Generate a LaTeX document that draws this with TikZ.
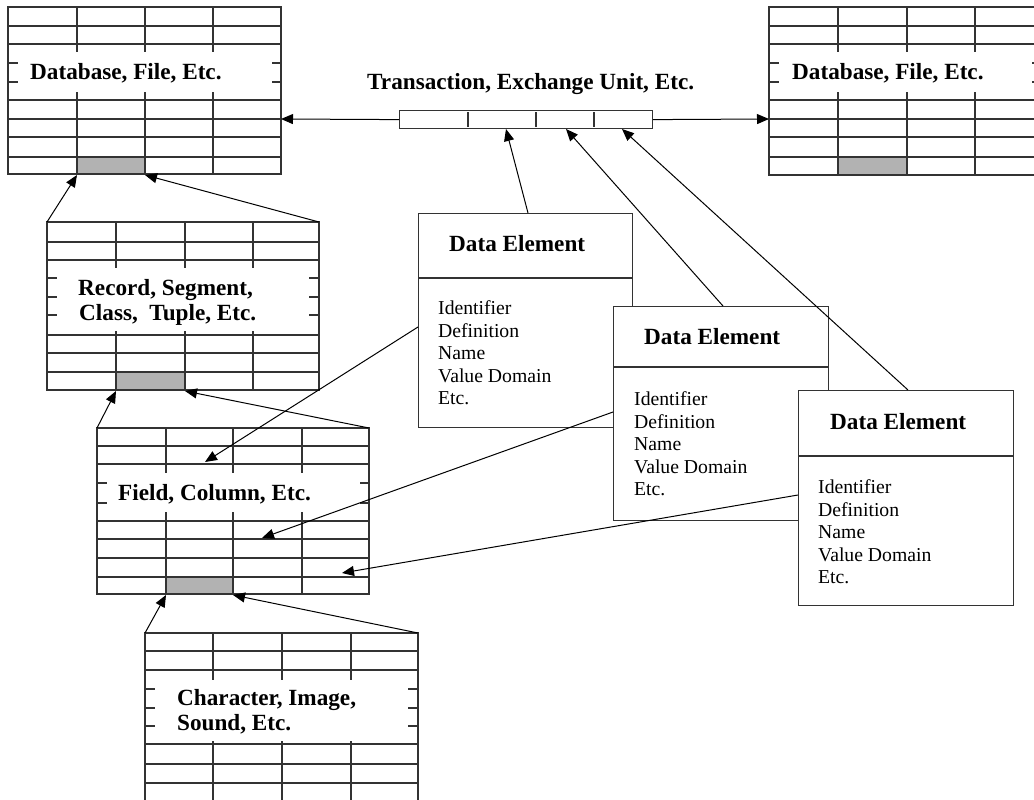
\documentclass[tikz,border=0pt]{standalone}
\usepackage{fontspec}
\setmainfont{Liberation Serif}
\usetikzlibrary{arrows.meta}
\tikzset{
  tline/.style={line width=1.2pt, draw=black!80},
  cellfill/.style={fill={rgb,255:red,178;green,178;blue,178}},
  maskfill/.style={fill=white},
  ttl/.style={font=\fontsize{23.2}{25}\selectfont\bfseries, anchor=base west, inner sep=0pt},
  body/.style={font=\fontsize{19.7}{22.5}\selectfont, anchor=base west, inner sep=0pt},
  debox/.style={draw=black!80, line width=1.2pt, fill=white, inner sep=0pt, anchor=north west},
  conn/.style={line width=1pt, draw=black, -{Triangle[length=12pt,width=10pt]}},
}
\begin{document}
\begin{tikzpicture}[x=1pt,y=-1pt]
\useasboundingbox (0,0) rectangle (1034,800);
\clip (0,0) rectangle (1034,800);
\fill[white] (0,0) rectangle (1034,800);

% ---------- Database table 1 ----------
\fill[cellfill] (77,157) rectangle (145,174);
\draw[tline] (8,7) rectangle (281,174);
\foreach \y in {26,44,63,82,100,119,137,157} \draw[tline] (8,\y) -- (281,\y);
\foreach \x in {77,145,213} \draw[tline] (\x,7) -- (\x,174);
\fill[maskfill] (18,52) rectangle (272,92);
\node[ttl] (db1t) at (30,80) {Database, File, Etc.};
\coordinate (db1r) at (281,119);
\coordinate (db1a) at (77,175);
\coordinate (db1b) at (145,175);

% ---------- Database table 2 ----------
\fill[cellfill] (838,157) rectangle (907,175);
\draw[tline] (769,7) rectangle (1042,175);
\foreach \y in {26,44,63,82,100,119,137,157} \draw[tline] (769,\y) -- (1042,\y);
\foreach \x in {838,907,975} \draw[tline] (\x,7) -- (\x,175);
\fill[maskfill] (779,52) rectangle (1032,92);
\node[ttl] (db2t) at (792,80) {Database, File, Etc.};
\coordinate (db2l) at (769,119);

% ---------- Record table ----------
\fill[cellfill] (116,372) rectangle (185,390);
\draw[tline] (47,222) rectangle (319,390);
\foreach \y in {242,260,278,297,315,335,353,372} \draw[tline] (47,\y) -- (319,\y);
\foreach \x in {116,185,253} \draw[tline] (\x,222) -- (\x,390);
\fill[maskfill] (57,268) rectangle (309,331);
\node[ttl] (rec1) at (78,295) {Record, Segment,};
\node[ttl] (rec2) at (79,320) {Class, \ Tuple, Etc.};
\coordinate (recTL) at (47,222);
\coordinate (recTR) at (319,222);
\coordinate (reca) at (116,391);
\coordinate (recb) at (185,391);

% ---------- Field table ----------
\fill[cellfill] (166,577) rectangle (233,594);
\draw[tline] (97,428) rectangle (369,594);
\foreach \y in {446,464,483,503,521,539,558,577} \draw[tline] (97,\y) -- (369,\y);
\foreach \x in {166,233,302} \draw[tline] (\x,428) -- (\x,594);
\fill[maskfill] (107,473) rectangle (360,512);
\node[ttl] (fld) at (118,500) {Field, Column, Etc.};
\coordinate (fldTL) at (97,428);
\coordinate (fldTR) at (369,428);
\coordinate (flda) at (166,595);
\coordinate (fldb) at (233,595);
\coordinate (fld1) at (205,462);
\coordinate (fld2) at (262,538);
\coordinate (fld3) at (342,573);

% ---------- Character table ----------
\draw[tline] (145,633) rectangle (418,806);
\foreach \y in {651,670,689,708,726,744,764,783} \draw[tline] (145,\y) -- (418,\y);
\foreach \x in {213,282,351} \draw[tline] (\x,633) -- (\x,806);
\fill[maskfill] (155,680) rectangle (408,741);
\node[ttl] (chr1) at (177,705) {Character, Image,};
\node[ttl] (chr2) at (177,730) {Sound, Etc.};
\coordinate (chrTL) at (145,633);
\coordinate (chrTR) at (418,633);

% ---------- Transaction bar ----------
\node[ttl] (trl) at (367,89) {Transaction, Exchange Unit, Etc.};
\node[draw=black!80, line width=1.2pt, fill=white, inner sep=0pt, anchor=north west,
      minimum width=253pt, minimum height=18pt] (bar) at (399,110) {};
\foreach \x in {468,536,594} \draw[line width=1.2pt, black!80] (\x,112) -- (\x,127);
\coordinate (bar1) at (506,129);
\coordinate (bar2) at (566,129);
\coordinate (bar3) at (622,129);

% ---------- Data element boxes ----------
\node[debox, minimum width=214pt, minimum height=214pt] (de1) at (418,213) {};
\draw[tline] (418,278) -- (632,278);
\node[ttl] (de1t) at (449,251.5) {Data Element};
\foreach [count=\i from 0] \t in {Identifier,Definition,Name,Value Domain,Etc.}
  \node[body] (de1l\i) at (438,314.5+22.6*\i) {\t};

\node[debox, minimum width=215pt, minimum height=214pt] (de2) at (613,306) {};
\draw[tline] (613,367) -- (828,367);
\node[ttl] (de2t) at (644,344.5) {Data Element};
\foreach [count=\i from 0] \t in {Identifier,Definition,Name,Value Domain,Etc.}
  \node[body] (de2l\i) at (634,405.5+22.6*\i) {\t};

\node[debox, minimum width=215pt, minimum height=215pt] (de3) at (798,390) {};
\draw[tline] (798,456) -- (1013,456);
\node[ttl] (de3t) at (830,429.5) {Data Element};
\foreach [count=\i from 0] \t in {Identifier,Definition,Name,Value Domain,Etc.}
  \node[body] (de3l\i) at (818,493.5+22.6*\i) {\t};

\coordinate (de1top) at (528,213);
\coordinate (de2top) at (723,306);
\coordinate (de3top) at (908,390);
\coordinate (de1left) at (418,327);
\coordinate (de2left) at (613,412);
\coordinate (de3left) at (798,495);

% ---------- Connectors ----------
\draw[conn] (bar.west) -- (db1r);
\draw[conn] (bar.east) -- (db2l);
\draw[conn] (de1top) -- (bar1);
\draw[conn] (de2top) -- (bar2);
\draw[conn] (de3top) -- (bar3);
\draw[conn] (de1left) -- (fld1);
\draw[conn] (de2left) -- (fld2);
\draw[conn] (de3left) -- (fld3);
\draw[conn] (recTL) -- (db1a);
\draw[conn] (recTR) -- (db1b);
\draw[conn] (fldTL) -- (reca);
\draw[conn] (fldTR) -- (recb);
\draw[conn] (chrTL) -- (flda);
\draw[conn] (chrTR) -- (fldb);
\end{tikzpicture}
\end{document}
